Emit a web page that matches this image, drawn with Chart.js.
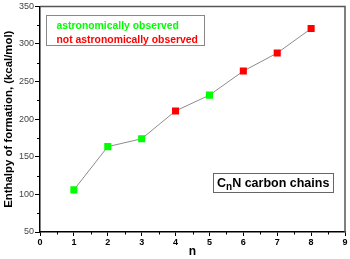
<!DOCTYPE html>
<html>
<head>
<meta charset="utf-8">
<script src="https://cdn.jsdelivr.net/npm/chart.js@4"></script>
<style>
  html, body { margin: 0; padding: 0; background: #fff; }
  #wrap { width: 350px; height: 259px; }
</style>
</head>
<body>
<div id="wrap"><canvas id="chart-cnn"></canvas></div>
<script>
// C_nN chains: enthalpy of formation vs n
var nValues = [1, 2, 3, 4, 5, 6, 7, 8];
var enthalpy = [106, 163.5, 174, 211, 232, 264, 288, 320.5];
var observed = [true, true, true, false, true, false, false, false];
var xTicks = [0, 1, 2, 3, 4, 5, 6, 7, 8, 9];
var yTicks = [50, 100, 150, 200, 250, 300, 350];
var xMinor = [0.5, 1.5, 2.5, 3.5, 4.5, 5.5, 6.5, 7.5, 8.5];
var yMinor = [75, 125, 175, 225, 275, 325];

var GREEN = '#00ff00';
var RED = '#ff0000';
var FONT = "'Liberation Sans', Arial, sans-serif";

var points = nValues.map(function(n, i) { return {x: n, y: enthalpy[i]}; });
var colors = observed.map(function(o) { return o ? GREEN : RED; });

// frame, minor ticks, legend box and label box
var extras = {
  id: 'extras',
  afterDraw: function(chart) {
    var ctx = chart.ctx;
    var a = chart.chartArea;
    var xs = chart.scales.x, ys = chart.scales.y;
    ctx.save();

    // top / right frame
    ctx.strokeStyle = '#555';
    ctx.lineWidth = 1.5;
    ctx.beginPath();
    ctx.moveTo(a.left, a.top);
    ctx.lineTo(a.right, a.top);
    ctx.lineTo(a.right, a.bottom);
    ctx.stroke();

    // minor ticks
    ctx.strokeStyle = '#000';
    ctx.lineWidth = 1;
    ctx.beginPath();
    xMinor.forEach(function(v) {
      var px = Math.round(xs.getPixelForValue(v)) + 0.5;
      ctx.moveTo(px, a.bottom);
      ctx.lineTo(px, a.bottom + 2.5);
    });
    yMinor.forEach(function(v) {
      var py = Math.round(ys.getPixelForValue(v)) + 0.5;
      ctx.moveTo(a.left, py);
      ctx.lineTo(a.left - 3, py);
    });
    ctx.stroke();

    // legend box
    ctx.strokeStyle = '#888';
    ctx.lineWidth = 1;
    ctx.strokeRect(46.5, 15.5, 158, 30);
    ctx.font = 'bold 10.4px ' + FONT;
    ctx.textBaseline = 'alphabetic';
    ctx.textAlign = 'left';
    ctx.fillStyle = GREEN;
    ctx.fillText('astronomically observed', 56.5, 28.5);
    ctx.fillStyle = RED;
    ctx.fillText('not astronomically observed', 56.5, 42.5);

    // C_nN label box
    ctx.strokeStyle = '#666';
    ctx.strokeRect(213.5, 173.5, 120, 19);
    ctx.fillStyle = '#000';
    ctx.font = 'bold 12.5px ' + FONT;
    var x = 217;
    ctx.fillText('C', x, 187);
    x += ctx.measureText('C').width;
    ctx.font = 'bold 10px ' + FONT;
    ctx.fillText('n', x, 190);
    x += ctx.measureText('n').width;
    ctx.font = 'bold 12.5px ' + FONT;
    ctx.fillText('N carbon chains', x, 187);

    ctx.restore();
  }
};

new Chart('chart-cnn', {
  type: 'scatter',
  data: {
    datasets: [{
      data: points,
      showLine: true,
      borderColor: '#8c8c8c',
      borderWidth: 1,
      pointStyle: 'rect',
      pointRadius: 5,
      pointHoverRadius: 5,
      pointBorderWidth: 0,
      pointBackgroundColor: colors,
      pointBorderColor: colors
    }]
  },
  options: {
    responsive: true,
    maintainAspectRatio: false,
    animation: false,
    layout: { padding: { top: 5, right: 3.5, left: 0, bottom: 0 } },
    plugins: {
      legend: { display: false },
      tooltip: { enabled: false }
    },
    scales: {
      x: {
        type: 'linear',
        min: 0,
        max: 9,
        afterBuildTicks: function(scale) {
          scale.ticks = xTicks.map(function(v) { return {value: v}; });
        },
        afterFit: function(scale) { scale.height = 27; },
        grid: { display: true, drawOnChartArea: false, drawTicks: true, tickLength: 4, tickColor: '#000', tickWidth: 1 },
        border: { display: true, color: '#000', width: 1.5 },
        ticks: { color: '#000', padding: 1, font: { family: FONT, size: 9, weight: 'bold' }, maxRotation: 0 },
        title: {
          display: true,
          text: 'n',
          color: '#000',
          padding: { top: 0, bottom: 0 },
          font: { family: FONT, size: 12, weight: 'bold' }
        }
      },
      y: {
        type: 'linear',
        min: 50,
        max: 350,
        afterBuildTicks: function(scale) {
          scale.ticks = yTicks.map(function(v) { return {value: v}; });
        },
        afterFit: function(scale) { scale.width = 40; },
        grid: { display: true, drawOnChartArea: false, drawTicks: true, tickLength: 5, tickColor: '#000', tickWidth: 1 },
        border: { display: true, color: '#000', width: 1.5 },
        ticks: { color: '#444', padding: 1, font: { family: FONT, size: 9 } },
        title: {
          display: true,
          text: 'Enthalpy of formation, (kcal/mol)',
          color: '#000',
          padding: { top: 2, bottom: 0 },
          font: { family: FONT, size: 11.4, weight: 'bold' }
        }
      }
    }
  },
  plugins: [extras]
});
</script>
</body>
</html>
